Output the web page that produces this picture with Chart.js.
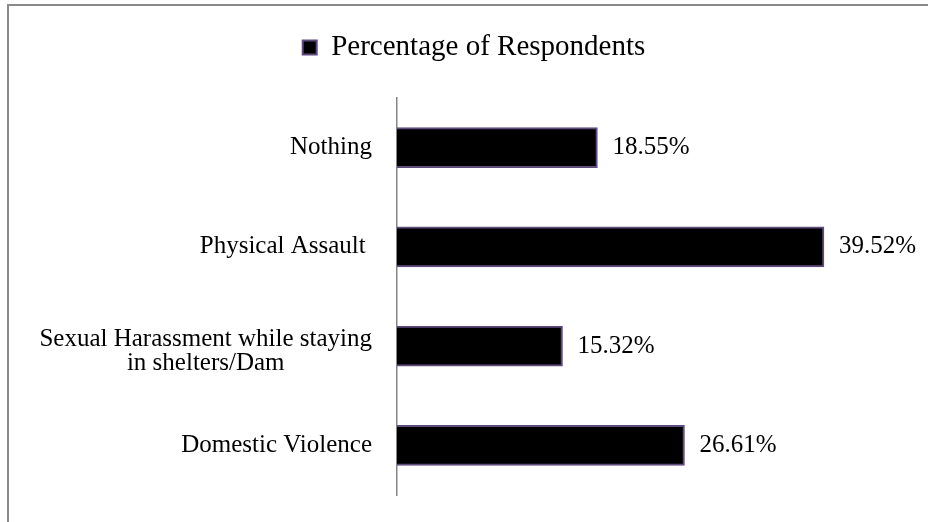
<!DOCTYPE html>
<html>
<head>
<meta charset="utf-8">
<script src="https://cdn.jsdelivr.net/npm/chart.js@4.4.0/dist/chart.umd.min.js"></script>
<style>
  html, body { margin: 0; padding: 0; background: #fff; overflow: hidden; }
  #wrap { position: relative; width: 928px; height: 522px; }
</style>
</head>
<body>
<div id="wrap"><canvas id="respondentsChart"></canvas></div>
<script>
// Chart data
const categories = ['Nothing', 'Physical Assault ', ['Sexual Harassment while staying', 'in shelters/Dam'], 'Domestic Violence'];
const seriesName = 'Percentage of Respondents';
const percentages = [18.55, 39.52, 15.32, 26.61];

const serif = "'Liberation Serif', 'Times New Roman', serif";

// Outer frame (only the top and left edges show in the crop)
const framePlugin = {
    id: 'frame',
    beforeDraw(chart) {
        const ctx = chart.ctx;
        ctx.save();
        ctx.fillStyle = '#8a8a8a';
        ctx.fillRect(7, 4, chart.width - 7, 2);
        ctx.fillRect(7, 4, 2, chart.height - 4);
        ctx.restore();
    }
};

// Give the legend a fixed block height so the plot starts under it
const legendSpace = {
    id: 'legendSpace',
    beforeInit(chart) {
        const fit = chart.legend.fit;
        chart.legend.fit = function () {
            fit.call(this);
            this.height = 98;
        };
    }
};

// Category labels: right aligned, wrapped lines centred on each other
const categoryLabels = {
    id: 'categoryLabels',
    afterDraw(chart) {
        const ctx = chart.ctx;
        const yScale = chart.scales.y;
        const right = yScale.right - 25;
        const lineH = 24;
        ctx.save();
        ctx.font = '25px ' + serif;
        ctx.fillStyle = '#000';
        ctx.textBaseline = 'middle';
        categories.forEach((label, i) => {
            const y = yScale.getPixelForTick(i);
            const lines = Array.isArray(label) ? label : [label];
            const widest = Math.max(...lines.map(l => ctx.measureText(l).width));
            lines.forEach((line, j) => {
                if (lines.length > 1) {
                    // wrapped label sits a little lower, like the original
                    const ly = y + 5 + (j - (lines.length - 1) / 2) * lineH;
                    ctx.textAlign = 'center';
                    ctx.fillText(line, right - widest / 2, ly);
                } else {
                    ctx.textAlign = 'right';
                    ctx.fillText(line, right, y);
                }
            });
        });
        ctx.restore();
    }
};

// Value labels just past the end of each bar
const valueLabels = {
    id: 'valueLabels',
    afterDatasetsDraw(chart) {
        const ctx = chart.ctx;
        const meta = chart.getDatasetMeta(0);
        ctx.save();
        ctx.font = '25px ' + serif;
        ctx.fillStyle = '#000';
        ctx.textAlign = 'left';
        ctx.textBaseline = 'middle';
        meta.data.forEach((bar, i) => {
            ctx.fillText(percentages[i].toFixed(2) + '%', bar.x + 15, bar.y);
        });
        ctx.restore();
    }
};

const ctx = document.getElementById('respondentsChart').getContext('2d');
const respondentsChart = new Chart(ctx, {
    type: 'bar',
    data: {
        labels: categories,
        datasets: [{
            label: seriesName,
            data: percentages,
            backgroundColor: '#000000',
            borderColor: '#5f4b7d',
            borderWidth: 2,
            barThickness: 40
        }]
    },
    options: {
        indexAxis: 'y',
        responsive: true,
        maintainAspectRatio: false,
        animation: false,
        layout: {
            padding: { left: 20, right: 0, top: 0, bottom: 27 }
        },
        plugins: {
            legend: {
                display: true,
                position: 'top',
                labels: {
                    color: '#000',
                    font: { family: serif, size: 29 },
                    boxWidth: 14,
                    boxHeight: 14,
                    padding: 33
                }
            },
            tooltip: { enabled: false }
        },
        scales: {
            x: {
                display: false,
                min: 0,
                max: 49.15
            },
            y: {
                grid: { display: false },
                border: { display: true, color: '#868686', width: 1.5 },
                ticks: { display: false },
                afterFit(scale) {
                    scale.width = 377;
                }
            }
        }
    },
    plugins: [framePlugin, legendSpace, categoryLabels, valueLabels]
});
</script>
</body>
</html>
